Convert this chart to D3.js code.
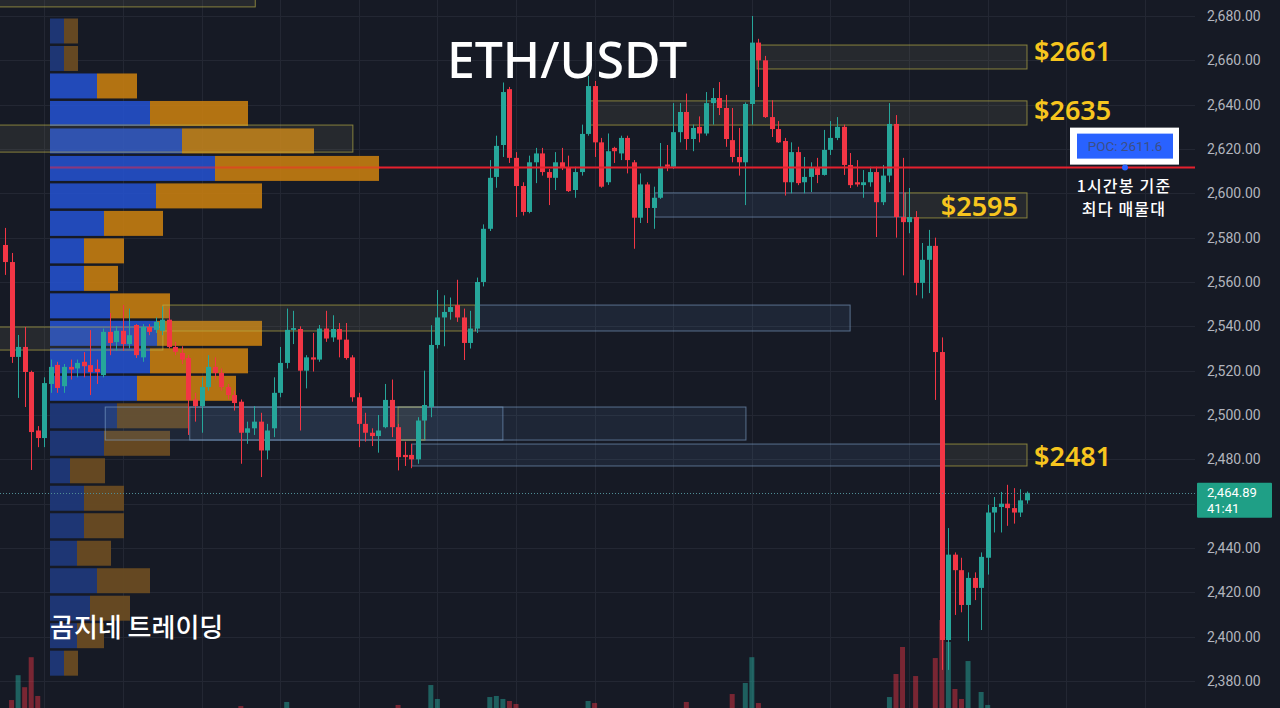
<!DOCTYPE html>
<html><head><meta charset="utf-8">
<script src="https://cdn.jsdelivr.net/npm/d3@7"></script>
<style>
html,body{margin:0;padding:0;background:#161a25;overflow:hidden}
svg{display:block}
</style></head><body>
<svg id="chart" width="1280" height="708"></svg>
<script>
// ---------- DATA ----------
const opens = [2576.7,2569,2526.2,2530.7,2519.4,2493,2489.6,2514,2522.6,2513,2521.7,2521,2524,2522.5,2520.8,2518,2537.5,2532.9,2538,2532,2540.6,2526,2539.7,2538.4,2538,2543,2530.7,2528,2525.7,2507,2504,2512.6,2521.7,2519,2512.6,2509,2506,2492,2494,2497,2484,2494,2510,2523.5,
2538.4,2538.8,2520,2526,2525,2539,2535,2538.8,2534,2526,2508,2496,2492,2490.5,2494.5,2506.8,2494.5,2482,2482,2480,2497.5,2503.6,2531.6,2544,2546.5,2549.6,2544,2532.5,2539,
2560,2584,2607.4,2621.8,2647,2616,2603.3,2591.6,2614,2618,2609.6,2607,2614,2611.8,2601.5,2609.6,2626.8,2648.4,2623,2605,2620.5,2618,2625,2614,2589,2604,2593.4,2598,2613,2612,2627.6,2636.7,2624.5,
2630,2627,2640.7,2643,2638.5,2624,2616.4,2614,2640.3,2668,2660,2634.4,2629,2623.6,2605,2618.6,2605,2607.4,2611.4,2608.3,2619.6,2625,2630,2612.8,2605,2603.7,2605,2609.6,2596,2608,2631.3,2589.3,2587,2589.3,
2559.6,2570,2576.3,
2528.4,2398.5,2437,2430,2414.3,2426.5,2422,2435.6,2456,2458.5,2460,2458,2456,2461.5];
const highs = [2584.4,2573.1,2536.1,2539.7,2520,2495,2517,2525,2524,2523,2525,2525,2528.4,2538.3,2525,2539,2546,2540,2549.6,2548,2541,2541,2541,2544,2549,2548,2533,2531,2527,2510,2517,2527,2526,2521,2514,2511,2507,2497,2504,2501,2496,2517,2530.7,2548,
2547,2540,2527,2537,2540.6,2547,2545,2541.5,2541.5,2527,2510,2501,2494,2500,2514,2516,2496,2488,2487,2499,2520,2540.5,2556.4,2554,2553,2561,2548,2547,2562,
2586,2615,2626,2650,2648,2618.6,2605,2617,2620.5,2620.5,2611,2618.6,2620.5,2617,2612,2631,2653,2650.7,2625,2627,2621,2626,2626,2615,2609,2605,2603,2622.7,2621.8,2640.7,2640.7,2645,2631,
2634.7,2645.7,2647.5,2650.2,2644.4,2638.5,2629.5,2641,2680,2669.7,2662,2642,2632.6,2625,2623,2621,2616.4,2614,2616,2628.6,2632.6,2634.4,2631,2618.2,2615,2610.5,2612,2612,2612.8,2640.7,2635.3,2616,2602.4,2592,
2577.6,2583.5,2580,
2535,2449,2438,2435.6,2429,2429,2438,2459.5,2463,2465.3,2468.5,2467,2466.5,2465.5];
const lows = [2563.2,2523.5,2507.7,2503.6,2475.2,2485.5,2485.5,2510,2510,2510,2516,2517,2517,2509,2514,2517,2527,2529,2529,2530,2525.7,2524,2536,2537,2536,2530,2527,2523,2491,2497,2492,2511,2516,2511,2507,2502,2478,2487,2491,2472,2480,2490,2508,2521,
2532,2493,2512,2519.6,2524,2533,2533,2526,2525,2506,2485.5,2488,2486,2483,2494,2490,2475,2477,2476,2478,2489,2499,2530,2531,2543,2542,2524.8,2530,2537,
2558,2583,2602.5,2616.4,2613.7,2589.3,2590,2591,2604.6,2608,2594.7,2601.5,2610.5,2600.6,2598,2608,2626,2616.4,2602.5,2603.8,2613.7,2615,2609,2575,2586.6,2586.6,2584,2597.5,2610,2611,2623,2619.6,2619,
2623,2626,2631,2635.3,2621,2614,2608,2594.7,2631,2648,2634,2625.4,2622.7,2599,2600,2603.7,2600,2600.6,2604.6,2608,2617.3,2624,2608.3,2602.4,2603,2598,2603,2580.3,2594.7,2605,2580,2563,2582,2554,
2552.6,2555,2506.8,
2385,2385,2409.8,2411,2398,2416.5,2403,2428,2447,2447,2450,2451,2454,2460];
const closes = [2569,2526.2,2530.7,2519.4,2492.3,2489.6,2514.4,2521.7,2512.2,2521.7,2520.5,2523.5,2522,2519.4,2519.4,2537.5,2532.5,2538,2532,2536,2527,2539.7,2537.5,2542,2543,2530.7,2528.5,2525,2506.8,2504,2512.6,2521.7,2519,2512.6,2509,2505.4,2492,2494,2497,2484,2493,2510,2523.5,2538.4,
2539.2,2520,2526,2525,2539,2534.5,2538.8,2534,2525.7,2508,2496,2492,2490.5,2493,2506.8,2494.5,2481,2481,2480,2497.5,2504.5,2531.6,2544,2546.5,2548.7,2544,2532.5,2539,2560,
2584,2607,2621.4,2645.7,2616,2603.3,2591.6,2614,2618,2609.6,2607,2614,2611.4,2601,2609.6,2626.8,2648.4,2623,2603,2619,2619,2625,2615,2589,2604,2593.4,2598,2612,2612,2627.6,2636.7,2624.5,2629.5,
2627,2640.7,2643,2638.5,2624.5,2616.4,2614,2640.3,2668,2660,2634.4,2629,2623,2605,2618.6,2604.6,2607.4,2611.4,2608.3,2619.6,2625,2630,2612.8,2603.7,2604,2605,2609.6,2596,2608,2631.3,2589.3,2587,2589.3,2559.6,
2570,2576.3,2528.4,
2398.5,2437,2430,2414.3,2426.5,2422,2436,2456,2458.5,2460,2458,2456,2461.5,2464.89];
const volumes = [9,18.3,39,29,54,21.7,10,
7,6,5,6,4,5,8,5,7,6,5,6,7,5,8,6,5,4,6,5,7,8,6,5,7,5,6,5,9,
13.3,6,7,11,6,8,9,16.7,
8,10,6,5,7,6,5,6,8,9,10,7,6,5,8,9,
14.2,7,6,9,10,30.8,19.2,9,8,10,9,8,11,11,
20.8,21.7,19.2,17.5,15,9,7,6,5,6,5,4,6,8,10,17.5,15.8,
10,8,5,6,7,11,9,7,6,8,5,9,8,16.7,7,6,9,8,7,10,23.3,9,32.5,54,15.8,
11,8,6,10,7,8,5,4,5,7,8,6,9,7,5,6,6,10,7,
20.8,40,62.5,10,38.3,11,10,53.3,85,66.7,27.5,19.2,50.8,11,25,14.2,10,8,9,7,6,5];

// price ticks
const priceTicks = [2380,2400,2420,2440,2460,2480,2500,2520,2540,2560,2580,2600,2620,2640,2660,2680];

// volume profile (1h), bin tops, buy / sell volume
const profTop  = [2679.1,2666.7,2654.3,2641.9,2629.5,2617.1,2604.7,2592.3,2579.9,2567.5,2555.1,2542.7,2530.3,2517.9,2505.5,2493.1,2480.7,2468.3,2455.9,2443.5,2431.1,2418.7,2406.3,2393.9];
const profBuy  = [14,14,47,100,132,165,106,54,34,34,60,107,100,87,67,54,20,34,34,27,47,40,27,14];
const profSell = [14,14,40,98,132,164,106,59,40,34,60,105,98,99,71,66,35,40,40,34,53,40,27,14];
const profBin = 12.4;
const vaHigh = 2654.3, vaLow = 2505.5;
const pocPrice = 2611.6;
const lastPrice = 2464.89;
const countdown = "41:41";

// zones (index range on the candle axis, price range)
const zoneStart  = [-1, -1, 114.8, 89.3, 137.4, 99.2, 24.1, 71.8, -1, 15.3, 28.2, 60, 62.1, 143.2];
const zoneEnd    = [38.2, 53.1, 156, 156, 156, 137.4, 71.8, 129, 24.1, 76, 113.1, 64.1, 143.2, 156];
const zoneTop    = [2689.3, 2630.8, 2666.9, 2641.7, 2600.2, 2600.2, 2549.6, 2549.6, 2539.7, 2503.6, 2503.6, 2503.6, 2486.9, 2486.9];
const zoneBottom = [2684.1, 2618.6, 2656.1, 2630.8, 2588.9, 2589.3, 2537.9, 2537.9, 2529.3, 2488.7, 2488.7, 2488.7, 2477.0, 2477.0];
const zoneKind   = ["y","y","y","y","y","b","y","b","y","b","b","y","b","y"];

const levelLabels = ["$2661","$2635","$2595","$2481"];
const levelPrices = [2664.2, 2637.6, 2594.3, 2481.5];
const levelInside = [false,false,true,false];

const title = "ETH/USDT";
const watermark = "곰지네 트레이딩";
const pocNote = ["1시간봉 기준","최다 매물대"];

// ---------- DRAW ----------
const svg = d3.select('#chart');
const W = 1280, H = 708;
svg.append('rect').attr('width',W).attr('height',H).attr('fill','#161a25');

const n = opens.length;
const x = d3.scaleLinear().domain([0, n-1]).range([5, 1027]);
const y = d3.scaleLinear().domain([2380, 2680]).range([681, 16]);
const vy = d3.scaleLinear().domain([0, 100]).range([722, 602]);
const px = d3.scaleLinear().domain([0, 329]).range([50, 379]);

const UP = '#26a69a', DOWN = '#f23645';

// grid
const g = svg.append('g');
g.selectAll('line.h').data(priceTicks).join('line')
  .attr('x1',0).attr('x2',1195).attr('y1',d=>Math.round(y(d))+0.5).attr('y2',d=>Math.round(y(d))+0.5)
  .attr('stroke','#232733').attr('stroke-width',1);
const vgrid = d3.range(6, 180, 12);
g.selectAll('line.v').data(vgrid).join('line')
  .attr('x1',d=>Math.round(x(d))+0.5).attr('x2',d=>Math.round(x(d))+0.5).attr('y1',0).attr('y2',H)
  .attr('stroke','#232733').attr('stroke-width',1);

// volume
svg.append('g').selectAll('rect').data(volumes).join('rect')
  .attr('x',(d,i)=>x(i)-2.5).attr('width',5)
  .attr('y',d=>vy(d)).attr('height',d=>vy(0)-vy(d))
  .attr('fill',(d,i)=> closes[i]>=opens[i] ? 'rgba(38,166,154,0.5)' : 'rgba(242,54,69,0.45)');

// POC line under profile (seen through bars)
svg.append('line').attr('x1',50).attr('x2',380).attr('y1',y(pocPrice)).attr('y2',y(pocPrice))
  .attr('stroke','#e5202e').attr('stroke-width',2);

// volume profile
const prof = svg.append('g');
profTop.forEach((t,i)=>{
  const inVA = t <= vaHigh + 0.01 && (t - profBin) >= vaLow - 0.01;
  const y0 = y(t)+0.5, h = y(t-profBin) - y(t) - 2.5;
  prof.append('rect').attr('x',px(0)).attr('y',y0).attr('width',px(profBuy[i])-px(0)).attr('height',h)
    .attr('fill', inVA ? '#2554d4' : '#1f3878').attr('opacity', inVA ? 0.85 : 0.95);
  prof.append('rect').attr('x',px(profBuy[i])).attr('y',y0).attr('width',px(profBuy[i]+profSell[i])-px(profBuy[i])).attr('height',h)
    .attr('fill', inVA ? '#c98010' : '#694b22').attr('opacity', inVA ? 0.88 : 0.95);
});

// zones
svg.append('g').selectAll('rect').data(zoneStart).join('rect')
  .attr('x',(d,i)=>x(d)).attr('width',(d,i)=>x(zoneEnd[i])-x(d))
  .attr('y',(d,i)=>y(zoneTop[i])).attr('height',(d,i)=>y(zoneBottom[i])-y(zoneTop[i]))
  .attr('fill',(d,i)=> zoneKind[i]==='y' ? 'rgba(150,150,110,0.13)' : 'rgba(90,130,180,0.12)')
  .attr('stroke',(d,i)=> zoneKind[i]==='y' ? 'rgba(190,180,70,0.65)' : 'rgba(130,165,205,0.6)')
  .attr('stroke-width',1);

// candles
const cg = svg.append('g');
cg.selectAll('line').data(opens).join('line')
  .attr('x1',(d,i)=>Math.round(x(i))+0.5).attr('x2',(d,i)=>Math.round(x(i))+0.5)
  .attr('y1',(d,i)=>y(highs[i])).attr('y2',(d,i)=>y(lows[i]))
  .attr('stroke',(d,i)=> closes[i]>=opens[i] ? UP : DOWN).attr('stroke-width',1);
cg.selectAll('rect').data(opens).join('rect')
  .attr('x',(d,i)=>Math.round(x(i))-2).attr('width',5)
  .attr('y',(d,i)=>y(Math.max(opens[i],closes[i])))
  .attr('height',(d,i)=>Math.max(1, Math.abs(y(opens[i])-y(closes[i]))))
  .attr('fill',(d,i)=> closes[i]>=opens[i] ? UP : DOWN);

// POC line rest
svg.append('line').attr('x1',380).attr('x2',1195).attr('y1',y(pocPrice)).attr('y2',y(pocPrice))
  .attr('stroke','#e5202e').attr('stroke-width',2);
svg.append('line').attr('x1',50).attr('x2',380).attr('y1',y(pocPrice)).attr('y2',y(pocPrice))
  .attr('stroke','#e5202e').attr('stroke-width',2).attr('opacity',0.45);

// last price dotted line
svg.append('line').attr('x1',0).attr('x2',1197).attr('y1',Math.round(y(lastPrice))+0.5).attr('y2',Math.round(y(lastPrice))+0.5)
  .attr('stroke','#4f8d95').attr('stroke-width',1).attr('stroke-dasharray','1,2');

// price axis (labels hidden behind the last-price tag are not drawn)
const ly = y(lastPrice);
const shownTicks = priceTicks.filter(v => y(v) < ly - 16 || y(v) > ly + 32);
const axis = d3.axisRight(y).tickValues(shownTicks).tickFormat(d3.format(',.2f')).tickSize(0).tickPadding(0);
const ag = svg.append('g').attr('transform','translate(1207,0)').call(axis);
ag.select('.domain').remove();
ag.selectAll('text').attr('fill','#b2b5be').attr('font-size',14).attr('font-family','Roboto, "Liberation Sans", sans-serif');

// last price label
svg.append('rect').attr('x',1197).attr('y',ly-10).attr('width',75).attr('height',35).attr('fill','#1f9f86').attr('rx',1);
svg.append('text').attr('x',1207).attr('y',ly+4).text(d3.format(',.2f')(lastPrice))
  .attr('fill','#ffffff').attr('font-size',13).attr('font-family','Roboto, "Liberation Sans", sans-serif');
svg.append('text').attr('x',1207).attr('y',ly+20).text(countdown)
  .attr('fill','#ffffff').attr('font-size',13).attr('font-family','Roboto, "Liberation Sans", sans-serif');

// level labels
levelLabels.forEach((t,i)=>{
  svg.append('text').attr('x', levelInside[i] ? 1018 : 1034).attr('y', y(levelPrices[i]))
    .attr('dy','0.36em').attr('text-anchor', levelInside[i] ? 'end' : 'start')
    .attr('fill','#f7c51e').attr('font-size',27).attr('font-weight',600)
    .attr('font-family','"Noto Sans", "Open Sans", sans-serif').text(t);
});

// title
svg.append('text').attr('x',567).attr('y',78).attr('text-anchor','middle')
  .attr('fill','#ffffff').attr('font-size',50).attr('font-weight',500)
  .attr('font-family','"Noto Sans", "Open Sans", sans-serif').text(title);

// watermark
svg.append('text').attr('x',50).attr('y',637)
  .attr('fill','#ffffff').attr('font-size',26).attr('font-weight',500)
  .attr('font-family','"Noto Sans CJK KR", sans-serif').text(watermark);

// POC box
const py = y(pocPrice);
svg.append('rect').attr('x',1070).attr('y',py-40).attr('width',109).attr('height',37).attr('fill','#ffffff');
svg.append('rect').attr('x',1077).attr('y',py-34).attr('width',96).attr('height',25).attr('fill','#2962ff');
svg.append('text').attr('x',1125).attr('y',py-21.5).attr('dy','0.35em').attr('text-anchor','middle')
  .attr('fill','#3d4f86').attr('font-size',13.5).attr('font-family','Roboto, sans-serif').text('POC: ' + pocPrice.toFixed(1));
svg.append('circle').attr('cx',1125).attr('cy',py).attr('r',3).attr('fill','#2962ff');
pocNote.forEach((t,i)=>{
  svg.append('text').attr('x',1124).attr('y',py+24+i*23.5).attr('text-anchor','middle')
    .attr('fill','#ffffff').attr('font-size',16).attr('font-weight',500).attr('letter-spacing',1.2)
    .attr('font-family','"Noto Sans CJK KR", sans-serif').text(t);
});
</script>
</body></html>
